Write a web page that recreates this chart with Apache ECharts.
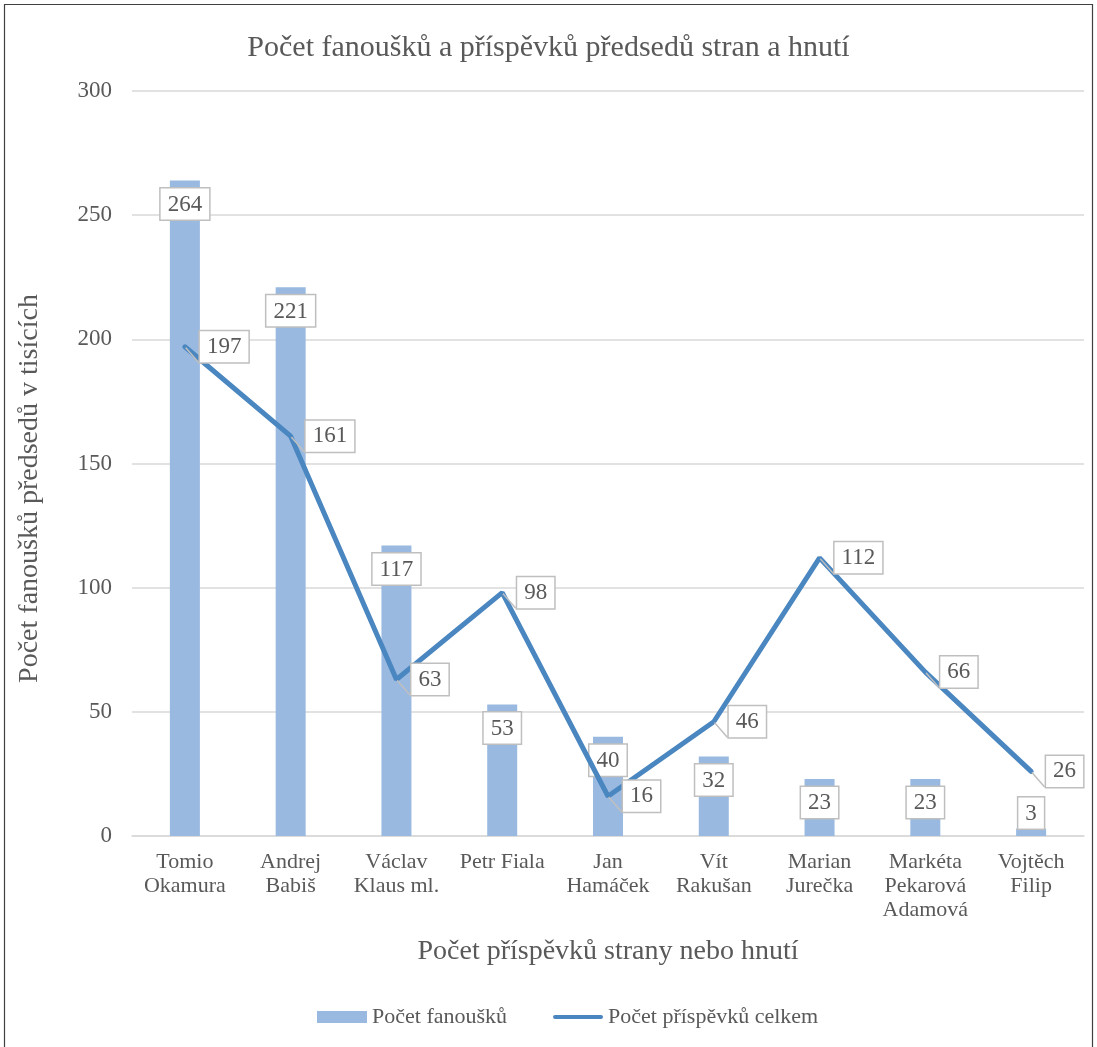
<!DOCTYPE html>
<html>
<head>
<meta charset="utf-8">
<script src="https://cdn.jsdelivr.net/npm/echarts@6/dist/echarts.min.js"></script>
<style>
  html, body { margin: 0; padding: 0; background: #fff; }
  #chart { width: 1097px; height: 1047px; }
</style>
</head>
<body>
<div id="chart"></div>
<script>
// Party and movement leaders
const leaders = [
  'Tomio\nOkamura', 'Andrej\nBabiš', 'Václav\nKlaus ml.', 'Petr Fiala', 'Jan\nHamáček',
  'Vít\nRakušan', 'Marian\nJurečka', 'Markéta\nPekarová\nAdamová', 'Vojtěch\nFilip'
];
// Fans (thousands)
const fans = [264, 221, 117, 53, 40, 32, 23, 23, 3];
// Total posts
const posts = [197, 161, 63, 98, 16, 46, 112, 66, 26];
// Value axis ticks
const yMin = 0, yMax = 300, yStep = 50;

const serif = '"Liberation Serif", "DejaVu Serif", serif';
const textGray = '#595959';
const barBlue = '#99b9e0';
const lineBlue = '#4a86c0';

const boxLabel = {
  show: true,
  fontFamily: serif,
  fontSize: 23,
  color: textGray,
  backgroundColor: '#ffffff',
  borderColor: '#bfbfbf',
  borderWidth: 1.5,
  padding: [5, 7, 3, 7]
};

const chart = echarts.init(document.getElementById('chart'));
chart.setOption({
  animation: false,
  backgroundColor: '#ffffff',
  title: {
    text: 'Počet fanoušků a příspěvků předsedů stran a hnutí',
    left: 'center',
    top: 28,
    textStyle: { fontFamily: serif, fontSize: 30, fontWeight: 'normal', color: textGray }
  },
  graphic: [{
    type: 'rect',
    shape: { x: 4.5, y: 4.5, width: 1088, height: 1080 },
    style: { fill: 'none', stroke: '#404040', lineWidth: 1.2 },
    silent: true
  }],
  legend: {
    bottom: 14,
    left: 312,
    itemGap: 46,
    itemWidth: 50,
    itemHeight: 12,
    symbolKeepAspect: true,
    textStyle: { fontFamily: serif, fontSize: 22, color: textGray, padding: [0, 0, 0, 0] },
    data: [
      { name: 'Počet fanoušků', icon: 'rect' },
      { name: 'Počet příspěvků celkem', icon: 'path://M2,0 L48,0 A2,2 0 0 1 48,4 L2,4 A2,2 0 0 1 2,0 Z' }
    ]
  },
  grid: { left: 132, right: 13, top: 91, bottom: 211 },
  xAxis: {
    type: 'category',
    data: leaders,
    name: 'Počet příspěvků strany nebo hnutí',
    nameLocation: 'middle',
    nameGap: 102,
    nameTextStyle: { fontFamily: serif, fontSize: 28, color: textGray },
    axisLine: { lineStyle: { color: '#d9d9d9', width: 1.5 } },
    axisTick: { show: false },
    axisLabel: {
      fontFamily: serif, fontSize: 22, color: textGray,
      lineHeight: 24, margin: 14, interval: 0
    }
  },
  yAxis: {
    type: 'value',
    min: yMin, max: yMax, interval: yStep,
    name: 'Počet fanoušků předsedů v tisících',
    nameLocation: 'middle',
    nameGap: 88,
    nameTextStyle: { fontFamily: serif, fontSize: 28, color: textGray, padding: [0, 50, 0, 0] },
    axisLine: { show: false },
    axisTick: { show: false },
    axisLabel: { fontFamily: serif, fontSize: 23, color: textGray, margin: 20 },
    splitLine: { lineStyle: { color: '#d9d9d9', width: 1.5 } }
  },
  series: [
    {
      name: 'Počet fanoušků',
      type: 'bar',
      barWidth: 30,
      itemStyle: { color: barBlue },
      label: Object.assign({}, boxLabel, { position: 'insideTop', distance: 8 }),
      data: fans.map(v => v < 10
        ? { value: v, label: { position: 'top', distance: 0 } }
        : v)
    },
    {
      name: 'Počet příspěvků celkem',
      type: 'line',
      symbol: 'circle',
      symbolSize: 2,
      showSymbol: true,
      lineStyle: { color: lineBlue, width: 5, cap: 'round' },
      itemStyle: { color: lineBlue },
      label: Object.assign({}, boxLabel, { position: 'right', distance: 14 }),
      labelLine: { show: true, lineStyle: { color: '#bfbfbf', width: 1.5 } },
      data: posts,
      z: 3
    }
  ]
});
</script>
</body>
</html>
